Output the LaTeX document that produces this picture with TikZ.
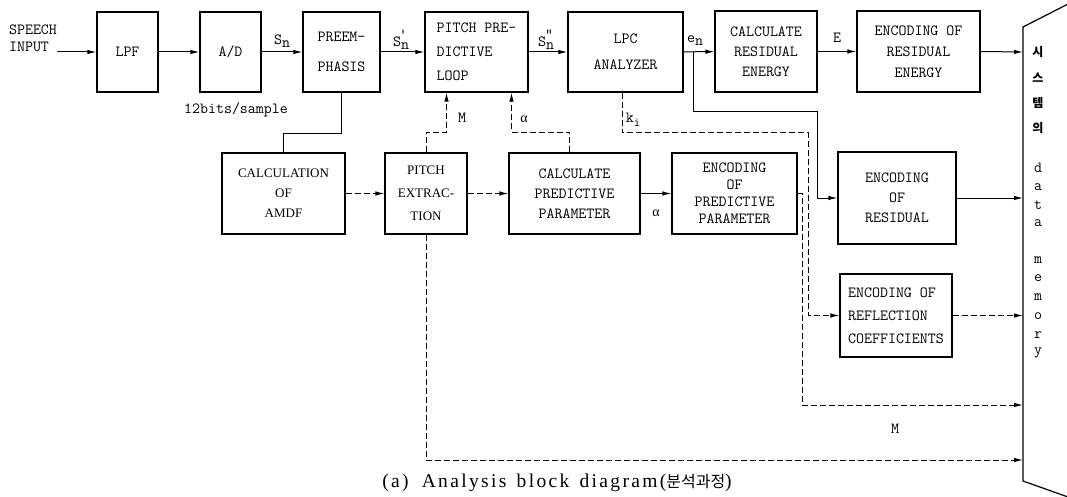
\documentclass[tikz,border=0pt]{standalone}
\usepackage{fontspec}
\setmainfont{Liberation Serif}
\newfontfamily\kr{Noto Sans CJK KR}
\newfontfamily\capfont[LetterSpace=12]{Liberation Serif}
\usetikzlibrary{arrows.meta}
\begin{document}
\begin{tikzpicture}[x=1pt,y=-1pt,
  blk/.style={draw,line width=1.2pt,inner sep=0pt,align=center},
  tt/.style={font=\fontsize{15.5}{#1}\selectfont\ttfamily},
  rm/.style={font=\fontsize{13}{#1}\selectfont\rmfamily},
  lab/.style={font=\fontsize{15.5}{17}\selectfont\ttfamily,inner sep=0pt},
  con/.style={line width=1pt},
  arr/.style={con,-{Latex[length=9pt,width=4.5pt]}},
  dsh/.style={dash pattern=on 6pt off 3pt},
]
\useasboundingbox (0,0) rectangle (1067,497);

% ---- row 1
\node[tt=17,align=left,inner sep=0pt] (sp) at (33,38) {SPEECH\\INPUT};
\coordinate (sin) at (57,52);
\node[blk,tt=20,minimum width=61pt,minimum height=80pt] (lpf) at (127.5,52) {LPF};
\node[blk,tt=20,minimum width=61pt,minimum height=80pt] (ad) at (230.5,52) {A/D};
\node[blk,tt=30,minimum width=77pt,minimum height=80pt] (pre) at (341.5,52) {PREEM-\\PHASIS};
\node[blk,tt=24,align=left,minimum width=103pt,minimum height=80pt] (ppl) at (476.5,52) {PITCH PRE-\\DICTIVE\\LOOP};
\node[blk,tt=26,minimum width=115pt,minimum height=80pt] (lpc) at (625.5,52) {LPC\\ANALYZER};
\node[blk,tt=20,minimum width=102pt,minimum height=81pt] (cre) at (766,51.5) {CALCULATE\\RESIDUAL\\ENERGY};
\node[blk,tt=21,minimum width=123pt,minimum height=81pt] (ere) at (918.5,51.5) {ENCODING OF\\RESIDUAL\\ENERGY};

% ---- row 2
\node[blk,rm=20,minimum width=123pt,minimum height=81pt] (amdf) at (283.5,193.5) {CALCULATION\\OF\\AMDF};
\node[blk,rm=23,minimum width=82pt,minimum height=81pt] (pex) at (426,193.5) {PITCH\\EXTRAC-\\TION};
\node[blk,tt=20,minimum width=131pt,minimum height=81pt] (cpp) at (574.5,193.5) {CALCULATE\\PREDICTIVE\\PARAMETER};
\node[blk,tt=17,minimum width=125pt,minimum height=81pt] (epp) at (734.5,193.5) {ENCODING\\OF\\PREDICTIVE\\PARAMETER};
\node[blk,tt=20,minimum width=118pt,minimum height=92pt] (er) at (897,198) {ENCODING\\OF\\RESIDUAL};
\node[blk,tt=23,align=left,minimum width=112pt,minimum height=83pt] (erc) at (896,315.5) {ENCODING OF\\REFLECTION\\COEFFICIENTS};

% ---- memory
\draw[line width=1.2pt] (1068,4) -- (1023,27) -- (1023,481) -- (1068,497);
\coordinate (m1) at (1023,52);
\coordinate (m2) at (1023,198);
\coordinate (m3) at (1023,315.5);
\coordinate (m4) at (1023,405);
\coordinate (m5) at (1023,460);
\foreach \t/\y [count=\i] in {시/52,스/78,템/103,의/128}
  \node[font=\fontsize{12}{14}\selectfont\kr\bfseries,inner sep=0pt] (k\i) at (1038,\y) {\t};
\foreach \t/\y [count=\i] in {d/168,a/187,t/205,a/223,m/260,e/278,m/297,o/316,r/335,y/353}
  \node[lab] (w\i) at (1038,\y) {\t};

% ---- row 1 connectors
\draw[arr] (sin) -- (lpf);
\draw[arr] (lpf) -- (ad);
\draw[arr] (ad) -- (pre);
\draw[arr] (pre) -- (ppl);
\draw[arr] (ppl) -- (lpc);
\draw[arr] (lpc) -- (cre);
\draw[arr] (cre) -- (ere);
\draw[arr] (ere.east) -- (m1);

\node[lab] (lsn) at (282,41) {S\raisebox{-3pt}{n}};
\node[lab] (lsn1) at (401,40) {S\raisebox{-3pt}{n}\llap{\raisebox{7pt}{'\kern2pt}}};
\node[lab] (lsn2) at (546,40) {S\raisebox{-3pt}{n}\llap{\raisebox{7pt}{"\kern1pt}}};
\node[lab] (len) at (695,41) {e\raisebox{-3pt}{n}};
\node[lab] (lE) at (837,38) {E};
\node[lab] (bits) at (236,110) {12bits/sample};

% ---- feedback / side connectors
\draw[con] (pre.south) -- ++(0,41) -| (amdf.north);
\draw[arr,dsh] (pex.north) -- ++(0,-20) -| ([xshift=-30pt]ppl.south);
\node[lab] (lM1) at (462,118) {M};
\draw[arr,dsh] ([xshift=-5pt]cpp.north) -- ++(0,-20) -| ([xshift=35pt]ppl.south);
\node[font=\fontsize{14}{16}\selectfont,inner sep=0pt] (la1) at (524,119) {α};
\coordinate (kx) at (808,133);
\draw[arr,dsh] ([xshift=-3pt]lpc.south) |- (kx) |- (erc.west);
\node[lab] (lk) at (633,120) {k\raisebox{-4pt}{\fontsize{12.5}{13}\selectfont i}};

\coordinate (ebr) at (693,52);
\coordinate (ec) at (817,112);
\draw[arr] (ebr) |- (ec) |- (er.west);

% ---- row 2 connectors
\draw[arr,dsh] (amdf) -- (pex);
\draw[arr,dsh] (pex) -- (cpp);
\draw[arr] (cpp) -- (epp);
\node[font=\fontsize{14}{16}\selectfont,inner sep=0pt] (la2) at (656,213) {α};

\coordinate (mx) at (802,405);
\draw[arr,dsh] (epp.east) -| (mx) -- (m4);
\draw[arr,dsh] (pex.south) |- (m5);
\node[lab] (lM2) at (895,429) {M};

\draw[arr] (er.east) -- (m2);
\draw[arr,dsh] (erc.east) -- (m3);

% ---- caption
\node[font=\fontsize{19.5}{22}\selectfont\capfont,inner sep=0pt] (cap) at (557,483) {(a)\hspace{6pt} Analysis\hspace{3pt} block\hspace{3pt} diagram({\kr\fontsize{16}{18}\selectfont 분석과정})};
\end{tikzpicture}
\end{document}
